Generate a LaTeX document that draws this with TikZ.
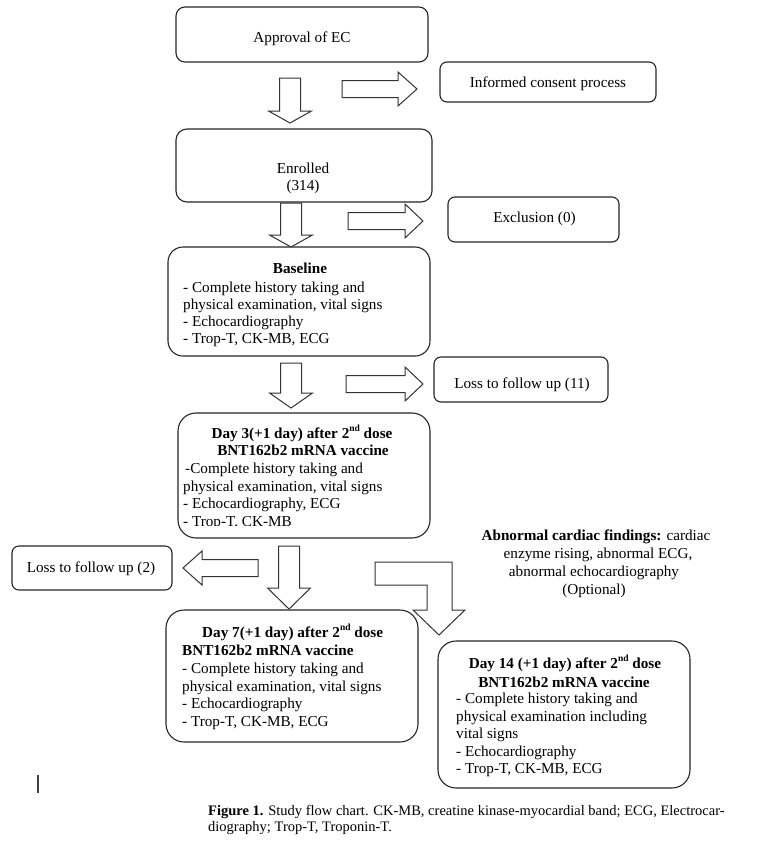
\documentclass[tikz,border=0pt]{standalone}
\usepackage{fontspec}
\setmainfont{Liberation Serif}
\newcommand\DArr[4]{\draw[blk] ({#1-10.5},#2) -- ({#1+10.5},#2) -- ({#1+10.5},#3) -- ({#1+21.5},#3) -- (#1,#4) -- ({#1-21.5},#3) -- ({#1-10.5},#3) -- cycle;}
\newcommand\HArr[4]{\draw[blk] (#2,{#1-8.5}) -- (#3,{#1-8.5}) -- (#3,{#1-17}) -- (#4,#1) -- (#3,{#1+17}) -- (#3,{#1+8.5}) -- (#2,{#1+8.5}) -- cycle;}
\newcommand\ordsup[1]{\raisebox{0.42em}{\fontsize{9.5}{9.5}\selectfont #1}}
\tikzset{
  box/.style={draw=black!85, line width=1.1pt, rounded corners=#1, inner sep=0pt},
  box/.default=10pt,
  blk/.style={draw=black!80, line width=1pt, fill=white, line join=miter},
  txt/.style={inner sep=0pt, font=\fontsize{15.2}{17.6}\selectfont},
  captxt/.style={inner sep=0pt, anchor=base west, font=\fontsize{14.5}{16}\selectfont},
}
\begin{document}
\begin{tikzpicture}[x=1pt,y=-1pt]
\useasboundingbox (0,0) rectangle (778,849);
\fill[white] (0,0) rectangle (778,849);

% boxes
\node[box=9pt, minimum width=252pt, minimum height=55pt] (approval) at (302,34.5) {};
\node[box=7pt, minimum width=216pt, minimum height=40pt] (consent) at (548,82) {};
\node[box=11pt, minimum width=256pt, minimum height=73pt] (enrolled) at (304,165.5) {};
\node[box=7pt, minimum width=171pt, minimum height=45pt] (exclusion) at (533.5,219.5) {};
\node[box=15pt, minimum width=262pt, minimum height=109pt] (baseline) at (299,301.5) {};
\node[box=7pt, minimum width=174pt, minimum height=45pt] (loss11) at (521,379.5) {};
\node[box=18pt, minimum width=252pt, minimum height=125pt] (day3) at (304,475.5) {};
\node[box=7pt, minimum width=160pt, minimum height=44pt] (loss2) at (92,568) {};
\node[box=18pt, minimum width=252pt, minimum height=132pt] (day7) at (292,676) {};
\node[box=18pt, minimum width=252pt, minimum height=147pt] (day14) at (564,714.5) {};

% block arrows
\DArr{290}{78}{111}{123}
\HArr{89}{342}{398}{417}
\DArr{291}{203}{235}{247}
\HArr{221}{348}{405}{423}
\DArr{291}{363}{393}{408}
\HArr{384}{346}{405}{423}
\DArr{289}{546}{588}{609}
\HArr{568}{258}{202}{183}
\draw[blk] (375,562) -- (452,562) -- (452,610) -- (465,610) -- (439,635) -- (413,610) -- (427,610) -- (427,585) -- (375,585) -- cycle;

% texts
\node[txt, anchor=base] (tApproval) at (302,42) {Approval of EC};
\node[txt, anchor=base] (tConsent) at (548,87) {Informed consent process};
\node[txt, anchor=base] (tEnr1) at (303,173) {Enrolled};
\node[txt, anchor=base] (tEnr2) at (303,190) {(314)};
\node[txt, anchor=base] (tExcl) at (534.5,222) {Exclusion (0)};

\node[txt, anchor=base] (tB0) at (300,273) {\textbf{Baseline}};
\node[txt, anchor=base west] (tB1) at (183,292) {- Complete history taking and};
\node[txt, anchor=base west] (tB2) at (183,309) {physical examination, vital signs};
\node[txt, anchor=base west] (tB3) at (183,326) {- Echocardiography};
\node[txt, anchor=base west] (tB4) at (183,343) {- Trop-T, CK-MB, ECG};

\node[txt, anchor=base] (tL11) at (522,388) {Loss to follow up (11)};

\node[txt, anchor=base] (tD3a) at (302,438) {\textbf{Day 3(+1 day) after 2\ordsup{nd} dose}};
\node[txt, anchor=base] (tD3b) at (303,455) {\textbf{BNT162b2 mRNA vaccine}};
\node[txt, anchor=base west] (tD3c) at (185,473) {-Complete history taking and};
\node[txt, anchor=base west] (tD3d) at (183,491) {physical examination, vital signs};
\node[txt, anchor=base west] (tD3e) at (183,508) {- Echocardiography, ECG};
\begin{scope}
\clip (180,510) rectangle (428,525.5);
\node[txt, anchor=base west] (tD3f) at (183,526) {- Trop-T, CK-MB};
\end{scope}

\node[txt, anchor=base] (tL2) at (91,572) {Loss to follow up (2)};

\node[txt, anchor=base west] (tD7a) at (202,637) {\textbf{Day 7(+1 day) after 2\ordsup{nd} dose}};
\node[txt, anchor=base west] (tD7b) at (182,655) {\textbf{BNT162b2 mRNA vaccine}};
\node[txt, anchor=base west] (tD7c) at (182,673) {- Complete history taking and};
\node[txt, anchor=base west] (tD7d) at (182,691) {physical examination, vital signs};
\node[txt, anchor=base west] (tD7e) at (182,708) {- Echocardiography};
\node[txt, anchor=base west] (tD7f) at (182,726) {- Trop-T, CK-MB, ECG};

\node[txt, anchor=base] (tAb1) at (596,540) {\textbf{Abnormal cardiac findings:} cardiac};
\node[txt, anchor=base] (tAb2) at (598,558) {enzyme rising, abnormal ECG,};
\node[txt, anchor=base] (tAb3) at (594,576) {abnormal echocardiography};
\node[txt, anchor=base] (tAb4) at (594,594) {(Optional)};

\node[txt, anchor=base] (tD14a) at (565,668) {\textbf{Day 14 (+1 day) after 2\ordsup{nd} dose}};
\node[txt, anchor=base] (tD14b) at (564,687) {\textbf{BNT162b2 mRNA vaccine}};
\node[txt, anchor=base west] (tD14c) at (456,703) {- Complete history taking and};
\node[txt, anchor=base west] (tD14d) at (456,721) {physical examination including};
\node[txt, anchor=base west] (tD14e) at (456,738) {vital signs};
\node[txt, anchor=base west] (tD14f) at (456,756) {- Echocardiography};
\node[txt, anchor=base west] (tD14g) at (456,773) {- Trop-T, CK-MB, ECG};

% cursor mark
\draw[black!75, line width=1.2pt] (38,775) -- (38,793);

% caption
\node[captxt] (cap1) at (208,815) {\textbf{Figure 1.} Study flow chart. CK-MB, creatine kinase-myocardial band; ECG, Electrocar-};
\node[captxt] (cap2) at (208,831) {diography; Trop-T, Troponin-T.};
\end{tikzpicture}
\end{document}
